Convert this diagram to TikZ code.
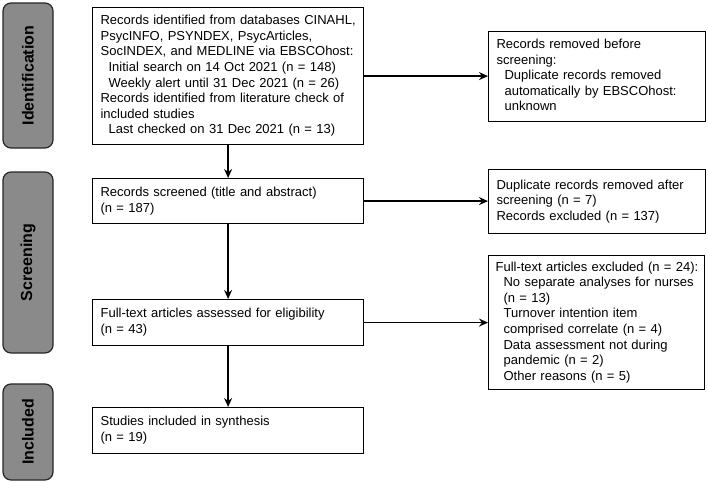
\documentclass[tikz,border=0pt]{standalone}
\usepackage{fontspec}
\setmainfont{Liberation Sans}
\usetikzlibrary{arrows.meta}
\newcommand{\ind}{\hspace*{8pt}}
\newcommand{\blines}[1]{\begin{tabular}{@{}l@{}}#1\end{tabular}}
\begin{document}
\begin{tikzpicture}[x=1pt,y=-1pt,
  box/.style={draw=black, line width=1.2pt, rectangle, anchor=north west,
    inner xsep=8pt, inner ysep=0pt, align=left,
    font=\fontsize{13}{15.6}\selectfont},
  tab/.style={draw=black!85, line width=1.2pt, fill=black!46, rounded corners=8pt,
    rotate=90, inner sep=0pt, minimum height=50pt,
    font=\fontsize{16}{18}\selectfont\bfseries},
  conn/.style={line width=1.4pt, -{Stealth[length=9pt,width=8pt,inset=3pt]}}
]
\useasboundingbox (0,0) rectangle (708,482);

\node[tab, minimum width=145pt] (tid) at (28,75.5) {Identification};
\node[tab, minimum width=181pt] (tscr) at (28,262.5) {Screening};
\node[tab, minimum width=96pt] (tinc) at (28,432) {Included};

\node[box, minimum width=271pt, minimum height=137pt, text width=255pt] (id) at (92,7)
 {\blines{Records identified from databases CINAHL,\\
  PsycINFO, PSYNDEX, PsycArticles,\\
  SocINDEX, and MEDLINE via EBSCOhost:\\
  \ind Initial search on 14 Oct 2021 (n = 148)\\
  \ind Weekly alert until 31 Dec 2021 (n = 26)\\
  Records identified from literature check of\\
  included studies\\
  \ind Last checked on 31 Dec 2021 (n = 13)}};

\node[box, minimum width=271pt, minimum height=45pt, text width=255pt] (scr) at (92,178)
 {\blines{Records screened (title and abstract)\\(n = 187)}};

\node[box, minimum width=271pt, minimum height=46pt, text width=255pt] (full) at (92,299)
 {\blines{Full-text articles assessed for eligibility\\(n = 43)}};

\node[box, minimum width=271pt, minimum height=46pt, text width=255pt] (incl) at (92,407)
 {\blines{Studies included in synthesis\\(n = 19)}};

\node[box, minimum width=217pt, minimum height=90pt, text width=201pt] (r1) at (488,31)
 {\blines{Records removed before\\
  screening:\\
  \ind Duplicate records removed\\
  \ind automatically by EBSCOhost:\\
  \ind unknown}};

\node[box, minimum width=217pt, minimum height=64pt, text width=201pt] (r2) at (488,169)
 {\blines{Duplicate records removed after\\
  screening (n = 7)\\
  Records excluded (n = 137)}};

\node[box, minimum width=216pt, minimum height=134pt, text width=202pt, inner xsep=7pt] (r3) at (488,255)
 {\blines{Full-text articles excluded (n = 24):\\
  \ind No separate analyses for nurses\\
  \ind (n = 13)\\
  \ind Turnover intention item\\
  \ind comprised correlate (n = 4)\\
  \ind Data assessment not during\\
  \ind pandemic (n = 2)\\
  \ind Other reasons (n = 5)}};

\draw[conn] (id.south) -- (scr.north);
\draw[conn] (scr.south) -- (full.north);
\draw[conn] (full.south) -- (incl.north);
\draw[conn] (id.east) -- (r1.west |- id.east);
\draw[conn] (scr.east) -- (r2.west |- scr.east);
\draw[conn] (full.east) -- (r3.west |- full.east);
\end{tikzpicture}
\end{document}
